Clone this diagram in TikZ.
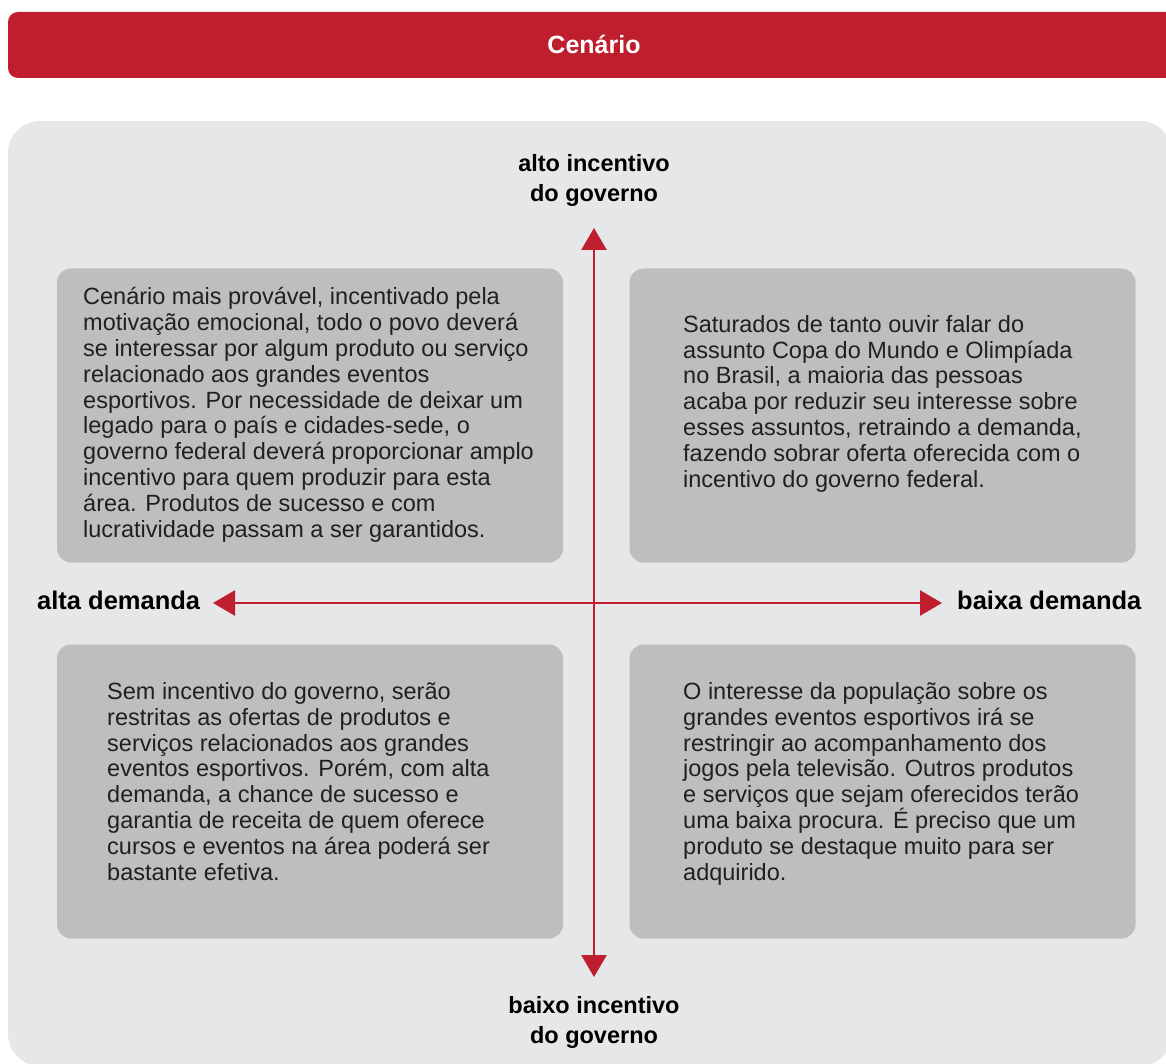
\documentclass[tikz,border=0pt]{standalone}
\usepackage{fontspec}
\setmainfont{Liberation Sans}
\usetikzlibrary{arrows.meta}
\definecolor{cred}{HTML}{BE1E2D}
\definecolor{panel}{HTML}{E5E7E9}
\definecolor{boxgray}{HTML}{BCBEC0}
\definecolor{ink}{HTML}{231F20}
\tikzset{
  quad/.style={fill=boxgray, draw=none, rounded corners=14pt, minimum width=506pt, minimum height=294pt, inner sep=0pt},
  body/.style={anchor=base west, align=left, inner sep=0pt, text=ink, font=\fontsize{23.5pt}{25.8pt}\selectfont},
  axislabel/.style={inner sep=0pt, text=black, font=\fontsize{25.5pt}{30pt}\selectfont\bfseries},
  vlabel/.style={inner sep=0pt, text=black, align=center, anchor=base, font=\fontsize{23.5pt}{30pt}\selectfont\bfseries},
  axis/.style={draw=cred, line width=2.6pt, {Triangle[length=22pt,width=25pt]}-{Triangle[length=22pt,width=25pt]}}
}
\begin{document}
\begin{tikzpicture}[x={(1pt,0)}, y={(0,-1pt)}]
\useasboundingbox (0,0) rectangle (1166,1064);
\clip (0,0) rectangle (1166,1064);
% banner
\fill[cred, rounded corners=10pt] (8,12) rectangle (1200,78);
\node[inner sep=0pt, anchor=base, text=white, font=\fontsize{25pt}{28pt}\selectfont\bfseries] (title) at (594,54) {Cenário};
% panel
\fill[panel, rounded corners=32pt] (8,121) rectangle (1172,1066);
% boxes
\node[quad] (q1) at (310,415.5) {};
\node[quad] (q2) at (882.5,415.5) {};
\node[quad] (q3) at (310,791.5) {};
\node[quad] (q4) at (882.5,791.5) {};
% texts (anchored at the baseline of their last line)
\node[body] (t1) at (83,537) {Cenário mais provável, incentivado pela\\motivação emocional, todo o povo deverá\\se interessar por algum produto ou serviço\\relacionado aos grandes eventos\\esportivos. Por necessidade de deixar um\\legado para o país e cidades-sede, o\\governo federal deverá proporcionar amplo\\incentivo para quem produzir para esta\\área. Produtos de sucesso e com\\lucratividade passam a ser garantidos.};
\node[body] (t2) at (683,487) {Saturados de tanto ouvir falar do\\assunto Copa do Mundo e Olimpíada\\no Brasil, a maioria das pessoas\\acaba por reduzir seu interesse sobre\\esses assuntos, retraindo a demanda,\\fazendo sobrar oferta oferecida com o\\incentivo do governo federal.};
\node[body] (t3) at (107,880) {Sem incentivo do governo, serão\\restritas as ofertas de produtos e\\serviços relacionados aos grandes\\eventos esportivos. Porém, com alta\\demanda, a chance de sucesso e\\garantia de receita de quem oferece\\cursos e eventos na área poderá ser\\bastante efetiva.};
\node[body] (t4) at (683,880) {O interesse da população sobre os\\grandes eventos esportivos irá se\\restringir ao acompanhamento dos\\jogos pela televisão. Outros produtos\\e serviços que sejam oferecidos terão\\uma baixa procura. É preciso que um\\produto se destaque muito para ser\\adquirido.};
% axes
\coordinate (top) at (594,228);
\coordinate (bot) at (594,977);
\coordinate (lft) at (213,603);
\coordinate (rgt) at (942,603);
\draw[axis] (bot) -- (top);
\draw[axis] (lft) -- (rgt);
% axis labels
\node[vlabel] (ltop) at (594,202) {alto incentivo\\do governo};
\node[vlabel] (lbot) at (594,1043) {baixo incentivo\\do governo};
\node[axislabel, anchor=base west] (lleft) at (37,609) {alta demanda};
\node[axislabel, anchor=base west] (lright) at (957,609) {baixa demanda};
\end{tikzpicture}
\end{document}
